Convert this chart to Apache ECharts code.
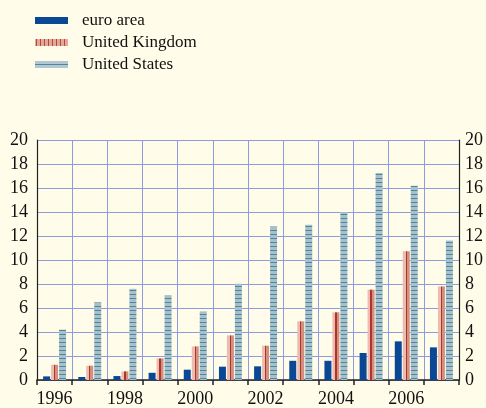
<!DOCTYPE html>
<html>
<head>
<meta charset="utf-8">
<script src="https://cdn.jsdelivr.net/npm/echarts@6/dist/echarts.min.js"></script>
<style>
  html, body { margin: 0; padding: 0; background: #fffde9; }
  #chart { width: 486px; height: 408px; }
</style>
</head>
<body>
<div id="chart"></div>
<script>
const years = ["1996", "1997", "1998", "1999", "2000", "2001", "2002", "2003", "2004", "2005", "2006", "2007"];
const euroArea = [0.3, 0.25, 0.33, 0.6, 0.86, 1.11, 1.14, 1.6, 1.6, 2.25, 3.22, 2.72];
const unitedKingdom = [1.27, 1.19, 0.72, 1.8, 2.8, 3.72, 2.86, 4.89, 5.64, 7.53, 10.72, 7.8];
const unitedStates = [4.2, 6.47, 7.6, 7.08, 5.72, 8.02, 12.8, 12.94, 14.0, 17.25, 16.19, 11.63];
const yTicks = [0, 2, 4, 6, 8, 10, 12, 14, 16, 18, 20];

const font = "Liberation Serif";

// horizontal teal stripes on light blue for US bars
function hStripes() {
  const c = document.createElement("canvas");
  c.width = 4; c.height = 4;
  const ctx = c.getContext("2d");
  ctx.fillStyle = "#a9c0cc";
  ctx.fillRect(0, 0, 4, 4);
  ctx.fillStyle = "#4b8a9a";
  ctx.fillRect(0, 2, 4, 1);
  return { image: c, repeat: "repeat" };
}

// vertical red stripes for the UK legend icon
function vStripes() {
  const c = document.createElement("canvas");
  c.width = 4; c.height = 4;
  const ctx = c.getContext("2d");
  ctx.fillStyle = "#e2aa9c";
  ctx.fillRect(0, 0, 4, 4);
  ctx.fillStyle = "#b8463a";
  ctx.fillRect(1, 0, 1, 4);
  return { image: c, repeat: "repeat" };
}

const ukBar = new echarts.graphic.LinearGradient(0, 0, 1, 0, [
  { offset: 0, color: "#ebbcb0" },
  { offset: 0.4, color: "#ebbcb0" },
  { offset: 0.4, color: "#b0322a" },
  { offset: 0.6, color: "#b0322a" },
  { offset: 0.6, color: "#d4907f" },
  { offset: 1, color: "#d4907f" }
]);

const usLegend = new echarts.graphic.LinearGradient(0, 0, 0, 1, [
  { offset: 0, color: "#b3c7d2" },
  { offset: 0.4, color: "#b3c7d2" },
  { offset: 0.4, color: "#4b8a9a" },
  { offset: 0.6, color: "#4b8a9a" },
  { offset: 0.6, color: "#b3c7d2" },
  { offset: 1, color: "#b3c7d2" }
]);

const chart = echarts.init(document.getElementById("chart"), null, { renderer: "canvas" });

const valueAxis = (pos) => ({
  type: "value",
  position: pos,
  min: 0,
  max: 20,
  interval: 2,
  axisLine: { show: true, lineStyle: { color: "#222", width: 1.2 } },
  axisTick: { show: false },
  splitLine: { show: pos === "left", lineStyle: { color: "#8e9be0", width: 1 } },
  axisLabel: {
    color: "#111",
    fontFamily: font,
    fontSize: 18,
    margin: pos === "left" ? 9 : 6,
    formatter: (v) => (yTicks.includes(v) ? String(v) : "")
  }
});

chart.setOption({
  backgroundColor: "#fffde9",
  animation: false,
  legend: {
    orient: "vertical",
    left: 35,
    top: 12,
    padding: 0,
    itemWidth: 33,
    itemHeight: 7,
    itemGap: 5,
    textStyle: { fontFamily: font, fontSize: 17, color: "#111", padding: [0, 0, 0, 9] },
    data: [
      { name: "euro area", icon: "rect", itemStyle: { color: "#0a4896", borderWidth: 0 } },
      { name: "United Kingdom", icon: "rect", itemStyle: { color: vStripes(), borderWidth: 0 } },
      { name: "United States", icon: "rect", itemStyle: { color: usLegend, borderWidth: 0 } }
    ]
  },
  grid: { left: 37, right: 20, top: 140, bottom: 27, containLabel: false },
  xAxis: {
    type: "category",
    data: years,
    boundaryGap: true,
    axisLine: { show: true, lineStyle: { color: "#222", width: 1.5 } },
    axisTick: { show: true, interval: 0, length: 5, lineStyle: { color: "#222", width: 1.5 } },
    splitLine: { show: true, interval: 0, lineStyle: { color: "#8e9be0", width: 1 } },
    axisLabel: { interval: 1, color: "#111", fontFamily: font, fontSize: 18, margin: 10 }
  },
  yAxis: [valueAxis("left"), valueAxis("right")],
  series: [
    {
      name: "euro area",
      type: "bar",
      data: euroArea,
      barWidth: 7,
      barGap: "14%",
      itemStyle: { color: "#0a4896" }
    },
    {
      name: "United Kingdom",
      type: "bar",
      data: unitedKingdom,
      barWidth: 7,
      barGap: "14%",
      itemStyle: { color: ukBar }
    },
    {
      name: "United States",
      type: "bar",
      data: unitedStates,
      barWidth: 7,
      barGap: "14%",
      itemStyle: { color: hStripes() }
    }
  ]
});
</script>
</body>
</html>
